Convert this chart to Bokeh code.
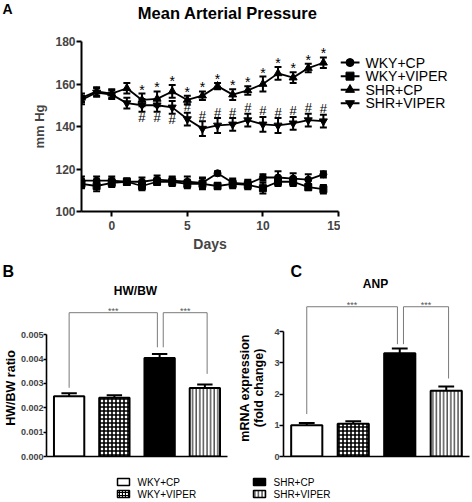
import numpy as np
from bokeh.plotting import figure
from bokeh.models import Range1d, FixedTicker, ColumnDataSource, PrintfTickFormatter
from bokeh.layouts import column, row
from bokeh.embed import file_html
from bokeh.resources import INLINE
from bokeh.core.properties import value

FONT = "Liberation Sans"

# ---------------- data: panel A ----------------
days = [-2, -1, 0, 1, 2, 3, 4, 5, 6, 7, 8, 9, 10, 11, 12, 13, 14]
wky_cp = [114.5, 114.5, 114.5, 114, 114, 115, 114.5, 114, 113.5, 118, 113.5, 113, 116, 116, 115.5, 115, 117.5]
wky_cp_err = [2, 2, 2, 1.5, 2, 2, 2, 2.5, 2.5, 1, 2, 2, 1.5, 3, 2.5, 2.5, 1.5]
wky_viper = [113, 112, 113.5, 114, 112, 114, 114, 113, 113, 112, 113, 112.5, 111, 114, 114, 111.5, 110.5]
wky_viper_err = [2, 2.5, 2, 1.5, 2, 1.5, 2, 2, 2.5, 1.5, 2, 2, 2.5, 2, 2, 1.5, 2]
shr_cp = [153.5, 156.5, 155.5, 158, 152.5, 153, 156.5, 152.5, 154.5, 159, 155, 157, 160, 165, 163, 167.5, 170]
shr_cp_err = [2, 2, 2, 2.5, 3, 3.5, 3, 2, 2, 1.5, 2.5, 2, 3.5, 3, 2.5, 2, 2.5]
shr_viper = [152.5, 156, 155, 151, 150, 150, 149, 143.5, 139, 140.5, 141, 143, 141, 140.5, 141.5, 143, 142.5]
shr_viper_err = [2, 2, 2, 2.5, 3, 3, 3, 3, 3.5, 3.5, 3, 3, 3.5, 3.5, 3, 3, 3]
series_names = ["WKY+CP", "WKY+VIPER", "SHR+CP", "SHR+VIPER"]
series_markers = ["circle", "square", "triangle", "inverted_triangle"]
star_days = [2, 3, 4, 5, 6, 7, 8, 9, 10, 11, 12, 13, 14]
hash_below_days = [2, 3, 4]
hash_above_days = [5, 6, 7, 8, 9, 10, 11, 12, 13, 14]
x_ticks = [0, 5, 10, 15]
y_ticks = [100, 120, 140, 160, 180]

# ---------------- data: panels B and C ----------------
groups = ["WKY+CP", "WKY+VIPER", "SHR+CP", "SHR+VIPER"]
hwbw = [0.00247, 0.00241, 0.00404, 0.00281]
hwbw_err = [0.00012, 0.00010, 0.00017, 0.00014]
anp = [1.0, 1.05, 3.31, 2.11]
anp_err = [0.07, 0.08, 0.15, 0.13]
hwbw_ticks = [0, 0.001, 0.002, 0.003, 0.004, 0.005]
anp_ticks = [0, 1, 2, 3, 4]
# significance brackets: (from bar, to bar, level, leg end at from, leg end at to)
hwbw_brackets = [(0, 2, 0.0059, 0.00282, 0.00448), (2, 3, 0.0059, 0.00448, 0.00339)]
anp_brackets = [(0, 2, 4.8, 1.36, 3.6), (2, 3, 4.8, 3.6, 2.5)]
sig_text = "***"

# bar styles
bar_fill = ["white", "white", "black", "white"]
bar_hatch = ["blank", "cross", "blank", "vertical_line"]
bar_hscale = [4, 4, 4, 3.6]
bar_hweight = [1, 1.6, 1, 1]


def text_fig(w, h):
    """A blank figure whose data space is its own pixel grid (y measured upward)."""
    f = figure(width=w, height=h, x_range=Range1d(0, w), y_range=Range1d(0, h),
               x_axis_location=None, y_axis_location=None, output_backend="svg",
               toolbar_location=None, title=None, min_border=0)
    f.outline_line_color = None
    f.xgrid.visible = False
    f.ygrid.visible = False
    return f


def put(f, x, y_from_top, txt, size, bold=True, align="left", angle=0.0):
    h = f.height
    f.text(x=[x], y=[h - y_from_top], text=[txt], text_font=value(FONT),
           text_font_style="bold" if bold else "normal", text_font_size=size,
           text_align=align, text_baseline="middle", angle=angle, text_color="black")


# ======================= header for panel A =======================
headA = text_fig(472, 22)
put(headA, 2, 8.5, "A", "14px")
put(headA, 229.5, 12, "Mean  Arterial Pressure", "16.5px", align="center")

# ======================= Panel A =======================
top = figure(width=340, height=242, x_range=Range1d(-2, 15), y_range=Range1d(100, 180),
             output_backend="svg", toolbar_location=None, title=None,
             min_border_left=81, min_border_right=2, min_border_top=19, min_border_bottom=53)
top.outline_line_color = None
top.xgrid.visible = False
top.ygrid.visible = False

for ax in (top.xaxis[0], top.yaxis[0]):
    ax.axis_line_width = 2
    ax.major_tick_line_width = 2
    ax.major_tick_in = 0
    ax.major_tick_out = 5
    ax.minor_tick_line_color = None
    ax.major_label_text_font = FONT
    ax.major_label_text_font_style = "bold"
    ax.major_label_text_font_size = "12px"
    ax.axis_label_text_font = FONT
    ax.axis_label_text_font_style = "bold"
top.xaxis[0].ticker = FixedTicker(ticks=x_ticks)
top.yaxis[0].ticker = FixedTicker(ticks=y_ticks)
top.xaxis[0].major_label_standoff = 4
top.yaxis[0].major_label_standoff = 1
top.xaxis[0].axis_label = "Days"
top.xaxis[0].axis_label_text_font_size = "14px"
top.xaxis[0].axis_label_standoff = 3
top.yaxis[0].axis_label = "mm Hg"
top.yaxis[0].axis_label_text_font_size = "13px"
top.yaxis[0].axis_label_standoff = 5

d = np.array(days, dtype=float)
cap = 0.23
PX = 80 / 170  # data units per pixel on the pressure axis
series = [
    (wky_cp, wky_cp_err, 7),
    (wky_viper, wky_viper_err, 7),
    (shr_cp, shr_cp_err, 8),
    (shr_viper, shr_viper_err, 8),
]
for (vals, errs, size), marker in zip(series, series_markers):
    v = np.array(vals, dtype=float)
    e = np.array(errs, dtype=float)
    top.line(d, v, line_color="black", line_width=1.8)
    top.segment(d, v - e, d, v + e, line_color="black", line_width=2)
    top.segment(d - cap, v + e, d + cap, v + e, line_color="black", line_width=2)
    top.segment(d - cap, v - e, d + cap, v - e, line_color="black", line_width=2)
    top.scatter(d, v, marker=marker, size=size, fill_color="black", line_color="black")

cp_v = np.array(shr_cp); cp_e = np.array(shr_cp_err)
vi_v = np.array(shr_viper); vi_e = np.array(shr_viper_err)
idx = lambda ds: [days.index(k) for k in ds]
si = idx(star_days)
top.text(x=[days[i] for i in si], y=list(cp_v[si] + cp_e[si] + 4 * PX), text=["*"] * len(si),
         text_font=value(FONT), text_font_size="14px", text_align="center",
         text_baseline="middle", text_color="black")
ha = idx(hash_above_days)
top.text(x=[days[i] for i in ha], y=list(vi_v[ha] + vi_e[ha] + 6 * PX), text=["#"] * len(ha),
         text_font=value(FONT), text_font_size="13px", text_align="center",
         text_baseline="middle", text_color="black")
hb = idx(hash_below_days)
top.text(x=[days[i] for i in hb], y=list(vi_v[hb] - vi_e[hb] - 5.5 * PX), text=["#"] * len(hb),
         text_font=value(FONT), text_font_size="13px", text_align="center",
         text_baseline="middle", text_color="black")

# legend for panel A, in its own strip to the right of the chart
legA = text_fig(132, 242)
row_h = 19.33
for k, (name, marker) in enumerate(zip(series_names, series_markers)):
    yc = 242 - (30 + k * row_h)
    legA.segment(x0=[0], y0=[yc], x1=[19], y1=[yc], line_color="black", line_width=2)
    legA.scatter(x=[9.5], y=[yc], marker=marker, size=8 if k < 2 else 9,
                 fill_color="black", line_color="black")
    legA.text(x=[25], y=[yc], text=[name], text_font=value(FONT), text_font_size="14px",
              text_align="left", text_baseline="middle", text_color="black")

# ======================= header for panels B, C =======================
headBC = text_fig(472, 36)
put(headBC, 2, 7, "B", "16px")
put(headBC, 135, 26, "HW/BW", "12px", align="center")
put(headBC, 290, 6.5, "C", "16px")
put(headBC, 375, 19, "ANP", "12px", align="center")

# ======================= Panels B, C =======================
bar_x = [0.5, 1.5, 2.5, 3.5]


def bar_panel(width, mbl, mbr, y_end, vals, errs, ticks, fmt, bounds_top, brackets, tick_out):
    p = figure(width=width, height=166, x_range=Range1d(0, 4), y_range=Range1d(0, y_end),
               output_backend="svg", toolbar_location=None, title=None,
               min_border_left=mbl, min_border_right=mbr, min_border_top=0, min_border_bottom=10)
    p.outline_line_color = None
    p.xgrid.visible = False
    p.ygrid.visible = False
    xa, ya = p.xaxis[0], p.yaxis[0]
    xa.ticker = FixedTicker(ticks=[])
    xa.axis_line_width = 1.6
    xa.major_tick_line_color = None
    xa.major_tick_out = 0
    xa.major_tick_in = 0
    xa.minor_tick_line_color = None
    xa.major_label_standoff = 0
    xa.major_label_text_font_size = "0px"
    ya.ticker = FixedTicker(ticks=ticks)
    ya.bounds = (0, bounds_top)
    ya.axis_line_width = 1.6
    ya.major_tick_line_width = 1.6
    ya.major_tick_in = 0
    ya.major_tick_out = tick_out
    ya.minor_tick_line_color = None
    ya.major_label_standoff = 0
    ya.major_label_text_font = FONT
    ya.major_label_text_font_style = "bold"
    ya.major_label_text_font_size = "9px"
    if fmt:
        ya.formatter = PrintfTickFormatter(format=fmt)

    v = np.array(vals, dtype=float)
    e = np.array(errs, dtype=float)
    bx = np.array(bar_x)
    src = ColumnDataSource(dict(x=bar_x, top=vals, fill=bar_fill, hatch=bar_hatch,
                                hs=bar_hscale, hw=bar_hweight))
    p.vbar(x="x", top="top", bottom=0, width=0.67, source=src, fill_color="fill",
           line_color="black", line_width=2, hatch_pattern="hatch", hatch_color="black",
           hatch_scale="hs", hatch_weight="hw")
    p.segment(bx, v, bx, v + e, line_color="black", line_width=2)
    p.segment(bx - 0.17, v + e, bx + 0.17, v + e, line_color="black", line_width=2)

    px = y_end / 156.0
    offs = {(0, 2): (0.0, -0.05), (2, 3): (0.08, 0.05)}
    for a, b, lvl, ya0, yb0 in brackets:
        da, db = offs[(a, b)]
        xa0 = bar_x[a] + da
        xb0 = bar_x[b] + db
        p.line([xa0, xa0, xb0, xb0], [ya0, lvl, lvl, yb0], line_color="#7a7a7a", line_width=1)
        p.text(x=[(xa0 + xb0) / 2], y=[lvl + 1.5 * px], text=[sig_text], text_font=value(FONT),
               text_font_size="9px", text_align="center", text_baseline="middle",
               text_color="#555555")
    return p


labB = text_fig(17, 166)
put(labB, 10, 93, "HW/BW ratio", "12.5px", align="center", angle=np.pi / 2)
pb = bar_panel(218, 26, 8, 0.0064, hwbw, hwbw_err, hwbw_ticks, "%.3f", 0.005, hwbw_brackets, 3)
labC = text_fig(33, 166)
put(labC, 9.5, 93, "mRNA expression", "12.5px", align="center", angle=np.pi / 2)
put(labC, 23, 93, "(fold change)", "12.5px", align="center", angle=np.pi / 2)
pc = bar_panel(204, 15, 3, 5.0, anp, anp_err, anp_ticks, None, 4, anp_brackets, 4)

# ======================= footer legends =======================
foot = text_fig(472, 34)
leg_pos = [(117, 15.5), (117, 27.5), (253, 15.5), (253, 27.5)]
for i, (lx, ly) in enumerate(leg_pos):
    yc = 34 - ly
    foot.rect(x=[lx + 6], y=[yc], width=12, height=7, fill_color=bar_fill[i],
              line_color="black", line_width=1.5, hatch_pattern=bar_hatch[i],
              hatch_color="black", hatch_scale=3 if i == 1 else bar_hscale[i],
              hatch_weight=1.2 if i == 1 else bar_hweight[i])
    foot.text(x=[lx + 20], y=[yc], text=[groups[i]], text_font=value(FONT),
              text_font_size="10px", text_align="left", text_baseline="middle",
              text_color="black")

layout = column(headA, row(top, legA, spacing=0), headBC,
                row(labB, pb, labC, pc, spacing=0), foot, spacing=0)
open("out.html", "w").write(file_html(layout, INLINE))
